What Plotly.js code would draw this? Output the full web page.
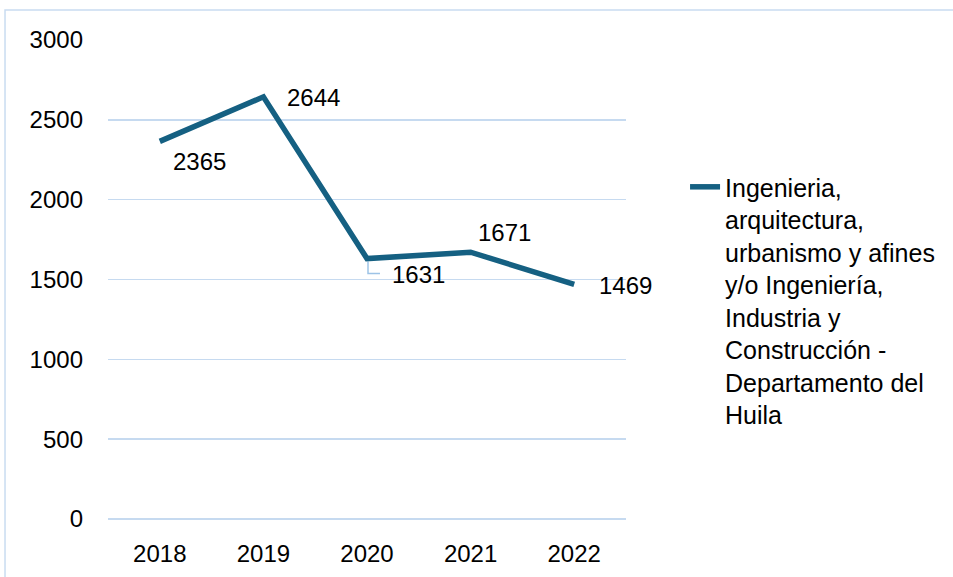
<!DOCTYPE html>
<html>
<head>
<meta charset="utf-8">
<script src="https://cdn.plot.ly/plotly-3.0.1.min.js"></script>
<style>html,body{margin:0;padding:0;background:#fff}#chart{width:953px;height:577px}</style>
</head>
<body>
<div id="chart"></div>
<script>
const years = ['2018', '2019', '2020', '2021', '2022'];
const values = [2365, 2644, 1631, 1671, 1469];
const seriesName = 'Ingenieria,<br>arquitectura,<br>urbanismo y afines<br>y/o Ingeniería,<br>Industria y<br>Construcción -<br>Departamento del<br>Huila';
const yTicks = [0, 500, 1000, 1500, 2000, 2500, 3000];

const lineColor = '#156082';
const gridColor = '#c6daf0';
const fontFam = 'Liberation Sans, Arial, sans-serif';

// label offsets in pixels (x right, y up)
const labelShift = [[40, -20], [50, -1], [51, -16], [34, 20], [51, -1]];

const annotations = years.map(function (yr, i) {
  return {
    x: i, y: values[i], xref: 'x', yref: 'y',
    text: String(values[i]), showarrow: false,
    xshift: labelShift[i][0], yshift: labelShift[i][1],
    font: {family: fontFam, size: 24, color: '#000000'}
  };
});

const shapes = [
  {type: 'rect', xref: 'paper', yref: 'paper', x0: -0.1988, x1: 2, y0: -1, y1: 1.0626,
   line: {color: '#c9dcf1', width: 1.5}, fillcolor: 'rgba(0,0,0,0)', layer: 'below'},
  // elbow leader line for the 2020 label
  {type: 'path', xref: 'x', yref: 'y', xsizemode: 'pixel', ysizemode: 'pixel',
   xanchor: 2, yanchor: values[2],
   path: 'M1,-3 L1,-15 L13,-15', line: {color: '#9dc3e6', width: 1.5}, layer: 'below'}
];

const data = [{
  type: 'scatter', mode: 'lines', x: years, y: values, name: seriesName,
  line: {color: lineColor, width: 5.5}
}];

const layout = {
  width: 953, height: 577,
  margin: {l: 108, r: 327, t: 40, b: 58},
  paper_bgcolor: '#fff', plot_bgcolor: '#fff',
  font: {family: fontFam, size: 24, color: '#000'},
  xaxis: {type: 'category', range: [-0.5, 4.5], showgrid: false, zeroline: false, showline: false,
          ticks: '', ticklabelstandoff: 18, tickfont: {family: fontFam, size: 24, color: '#000'}},
  yaxis: {range: [0, 3000], tickvals: yTicks, showgrid: true, gridcolor: gridColor, gridwidth: 1.5,
          zeroline: true, zerolinecolor: gridColor, zerolinewidth: 1.5, showline: false,
          ticks: '', ticklabelstandoff: 24, tickfont: {family: fontFam, size: 24, color: '#000'}},
  showlegend: true,
  legend: {x: 1.114, y: 0.741, xanchor: 'left', yanchor: 'top', valign: 'top',
           font: {family: fontFam, size: 25, color: '#000'}, bgcolor: 'rgba(0,0,0,0)'},
  annotations: annotations,
  shapes: shapes
};

Plotly.newPlot('chart', data, layout, {displayModeBar: false, staticPlot: true});
</script>
</body>
</html>
